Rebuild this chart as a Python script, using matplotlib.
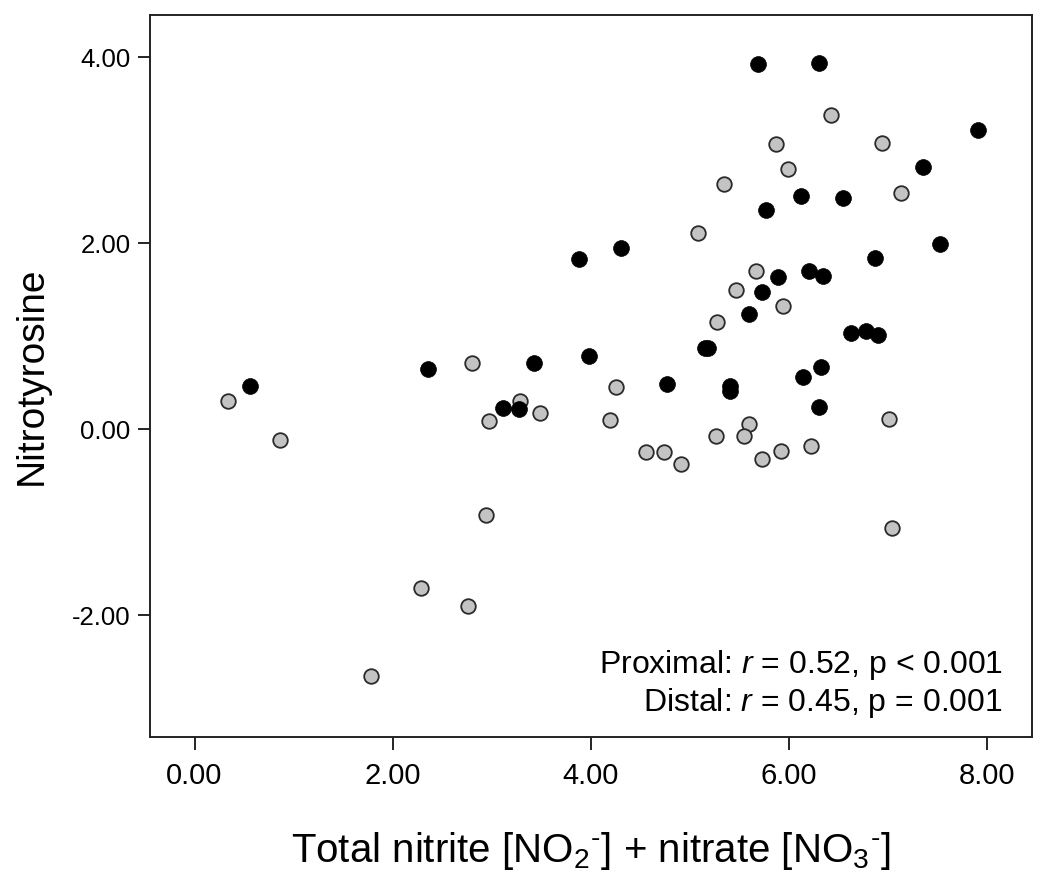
import matplotlib
matplotlib.use('Agg')
from matplotlib import pyplot as plt

# filled (black) group
black_x = [0.56, 2.36, 3.42, 3.11, 3.27, 3.88, 3.98, 4.30, 4.77, 5.15, 5.18, 5.40, 5.40,
           5.59, 5.69, 6.30, 7.90, 7.35, 6.12, 6.54, 5.77, 7.52, 6.87, 5.89, 6.20,
           6.34, 5.73, 6.62, 6.77, 6.90, 6.32, 6.14, 6.30]
black_y = [0.46, 0.65, 0.71, 0.23, 0.21, 1.83, 0.79, 1.95, 0.48, 0.87, 0.87, 0.46, 0.41,
           1.24, 3.92, 3.94, 3.22, 2.82, 2.51, 2.48, 2.36, 1.99, 1.84, 1.64, 1.70,
           1.65, 1.47, 1.03, 1.05, 1.01, 0.67, 0.56, 0.24]

# open (grey) group
grey_x = [0.34, 0.86, 2.80, 3.28, 3.49, 2.97, 2.94, 2.28, 2.76, 1.78, 5.34, 5.08,
          5.46, 5.27, 6.42, 5.87, 6.94, 5.99, 7.13, 5.66, 5.94, 4.25, 4.19, 5.59,
          5.54, 5.26, 4.55, 4.74, 4.91, 7.01, 5.73, 5.92, 6.22, 7.04]
grey_y = [0.30, -0.12, 0.71, 0.30, 0.17, 0.09, -0.92, -1.71, -1.90, -2.66, 2.64, 2.11,
          1.50, 1.15, 3.38, 3.07, 3.08, 2.80, 2.54, 1.70, 1.32, 0.45, 0.10, 0.05,
          -0.07, -0.08, -0.25, -0.25, -0.38, 0.11, -0.32, -0.24, -0.18, -1.06]

xticks = [0, 2, 4, 6, 8]
yticks = [-2, 0, 2, 4]

plt.rcParams['font.family'] = ['Liberation Sans', 'DejaVu Sans']
plt.rcParams['mathtext.fontset'] = 'custom'
plt.rcParams['mathtext.rm'] = 'Liberation Sans'
plt.rcParams['mathtext.it'] = 'Liberation Sans:italic'
plt.rcParams['mathtext.default'] = 'regular'

fig = plt.figure(figsize=(10.5, 8.77), dpi=100)
ax = fig.add_axes([0.1429, 0.1596, 0.8401, 0.8233])

ax.scatter(grey_x, grey_y, s=110, c='#c3c3c3', edgecolors='#2a2a2a', linewidths=1.3, zorder=3)
ax.scatter(black_x, black_y, s=130, c='black', edgecolors='black', linewidths=0.5, zorder=3)

ax.set_xlim(-0.449, 8.451)
ax.set_ylim(-3.312, 4.452)
ax.set_xticks(xticks)
ax.set_yticks(yticks)
ax.set_xticklabels(['%.2f' % v for v in xticks], fontsize=21)
ax.set_yticklabels(['%.2f' % v for v in yticks], fontsize=18.5)
ax.tick_params(direction='out', length=9, width=1.2)
ax.tick_params(axis='x', pad=9)
ax.tick_params(axis='y', pad=5)
for sp in ax.spines.values():
    sp.set_linewidth(1.4)
    sp.set_color('#222222')

ax.set_ylabel('Nitrotyrosine', fontsize=28, labelpad=16)
# short hyphen as the ion charge, like the original
ax.set_xlabel('Total nitrite [NO$_2$$^{\u2010}$] + nitrate [NO$_3$$^{\u2010}$]',
              fontsize=29, labelpad=29)

ax.text(0.967, 0.0997, r'Proximal: $\mathit{r}$ = 0.52, p < 0.001', transform=ax.transAxes,
        ha='right', va='center', fontsize=23)
ax.text(0.967, 0.047, r'Distal: $\mathit{r}$ = 0.45, p = 0.001', transform=ax.transAxes,
        ha='right', va='center', fontsize=23)

fig.savefig('out.png', dpi=100)
